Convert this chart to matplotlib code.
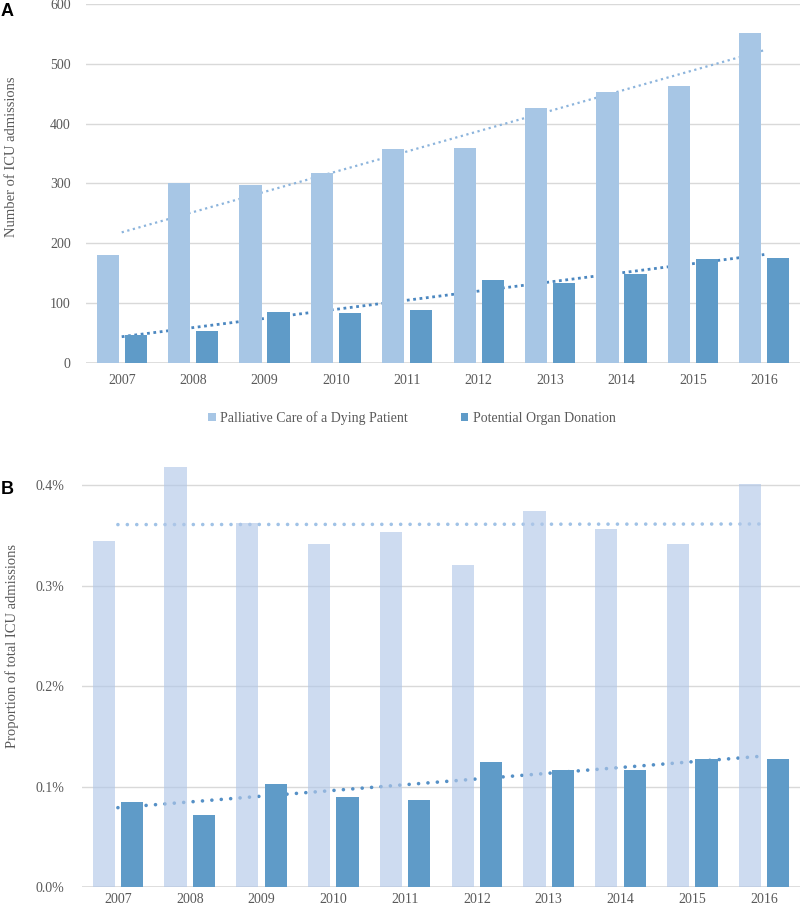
import numpy as np
import matplotlib
matplotlib.use("Agg")
from matplotlib import pyplot as plt
from matplotlib.ticker import FuncFormatter

# data
years = ["2007", "2008", "2009", "2010", "2011", "2012", "2013", "2014", "2015", "2016"]
palliative_n = [180, 301, 297, 317, 358, 360, 426, 453, 463, 551]
organ_n = [46, 53, 85, 84, 89, 139, 133, 149, 173, 175]
palliative_pct = [0.344, 0.418, 0.362, 0.341, 0.353, 0.321, 0.374, 0.356, 0.341, 0.401]
organ_pct = [0.085, 0.072, 0.103, 0.090, 0.087, 0.124, 0.116, 0.116, 0.127, 0.127]
legend_labels = ["Palliative Care of a Dying Patient", "Potential Organ Donation"]

W, H = 800, 908
GREY = "#595959"
GRID = "#d9d9d9"
SERIF = ["Liberation Serif", "DejaVu Serif"]
plt.rcParams["font.family"] = SERIF

fig = plt.figure(figsize=(W / 100, H / 100), dpi=100)


def px_axes(left, top, right, bottom):
  return fig.add_axes([left / W, 1 - bottom / H, (right - left) / W, (bottom - top) / H])


def style(ax):
  for s in ax.spines.values():
    s.set_visible(False)
  ax.yaxis.grid(True, color=GRID, lw=1)
  ax.set_axisbelow(True)
  ax.tick_params(length=0, colors=GREY, labelsize=10)
  ax.axhline(0, color=GRID, lw=1.2, zorder=1)
  ax.set_xlim(-0.5, len(years) - 0.5)
  ax.set_xticks(np.arange(len(years)))
  ax.set_xticklabels(years)


def trend(ax, y, **kw):
  x = np.arange(len(y))
  k, b = np.polyfit(x, y, 1)
  ax.plot(x, k * x + b, **kw)


x = np.arange(len(years))
off = 0.197
bw = 0.31

# panel A
axA = px_axes(86, 4, 800, 363)
style(axA)
axA.set_ylim(0, 600)
axA.set_yticks(range(0, 601, 100))
trend(axA, palliative_n, color="#8cb4dc", lw=1.6, ls=(0, (1, 1.6)), zorder=2)
trend(axA, organ_n, color="#4b87c0", lw=2.0, ls=(0, (1, 1.3)), zorder=2)
bA1 = axA.bar(x - off, palliative_n, bw, color="#a7c6e5", zorder=3)
bA2 = axA.bar(x + off, organ_n, bw, color="#5f9bc8", zorder=3)
axA.tick_params(axis="y", pad=11)
axA.tick_params(axis="x", pad=8)

fig.legend([bA1, bA2], legend_labels, loc="center", bbox_to_anchor=(412 / W, 1 - 418 / H),
           ncol=2, frameon=False, handlelength=0.55, handleheight=0.55, handletextpad=0.3,
           columnspacing=3.8, labelcolor=GREY, prop={"family": SERIF, "size": 10})

# panel B
axB = px_axes(82, 435, 800, 887)
style(axB)
axB.set_ylim(0, 0.45)
axB.set_yticks([0, 0.1, 0.2, 0.3, 0.4])
axB.yaxis.set_major_formatter(FuncFormatter(lambda v, p: "%.1f%%" % v))
axB.bar(x - off, palliative_pct, bw, color="#b2c8e8", alpha=0.65, zorder=3)
trend(axB, palliative_pct, color="#a0c2e6", lw=2.6, ls=(0, (0.01, 2.6)),
      dash_capstyle="round", zorder=2.5)
trend(axB, organ_pct, color="#5590c6", lw=2.6, ls=(0, (0.01, 2.6)),
      dash_capstyle="round", zorder=2.5)
axB.bar(x + off, organ_pct, bw, color="#5f9bc8", zorder=3)
axB.tick_params(axis="y", pad=13)
axB.tick_params(axis="x", pad=4)

# labels
fig.text(12 / W, 1 - 157 / H, "Number of ICU admissions", rotation=90, ha="center",
         va="center", color=GREY, fontsize=10.5)
fig.text(12 / W, 1 - 646 / H, "Proportion of total ICU admissions", rotation=90,
         ha="center", va="center", color=GREY, fontsize=10.5)
fig.text(1 / W, 1 - 11 / H, "A", fontsize=13, fontweight="bold", va="center",
         family=["Liberation Sans", "DejaVu Sans"])
fig.text(1 / W, 1 - 489 / H, "B", fontsize=13, fontweight="bold", va="center",
         family=["Liberation Sans", "DejaVu Sans"])

fig.savefig("out.png", dpi=100)
